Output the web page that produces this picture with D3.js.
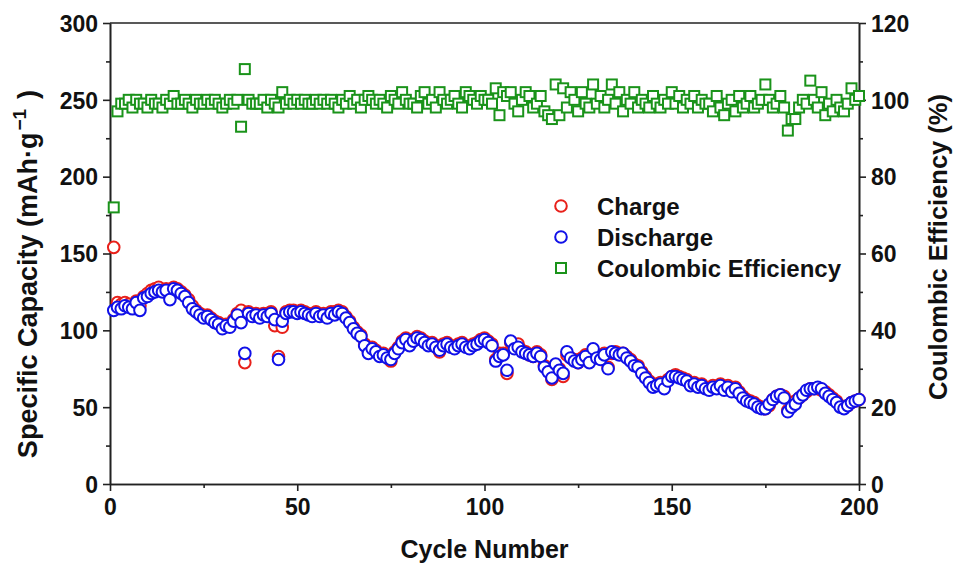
<!DOCTYPE html>
<html>
<head>
<meta charset="utf-8">
<script src="https://d3js.org/d3.v7.min.js"></script>
<style>
  body { margin: 0; background: #fff; }
  text { font-family: 'Liberation Sans', Arial, sans-serif; font-weight: bold; fill: #111; }
  .axis path, .axis line { stroke: #222; stroke-width: 1.6; }
  .axis text { font-size: 23px; }
</style>
</head>
<body>
<script>
// charge / discharge capacity (mAh/g) and coulombic efficiency (%) per cycle 1..200
var charge = [
  154,118,117,118,117,115,119,116,122,124, 126,127,128,126,127,122,128,127,125,123,
  120,116,113,111,109,110,108,106,105,103, 104,103,107,111,113,79,112,110,111,110,
  111,111,112,103,83,102,112,113,113,112, 113,112,111,110,112,110,111,109,112,112,
  113,112,109,106,102,99,97,91,86,89, 87,84,85,83,80,86,89,93,95,91,
  94,96,95,93,91,92,90,86,91,92, 90,89,91,92,90,89,91,92,94,95,
  93,91,81,85,85,72,92,89,91,87, 86,84,83,86,84,77,74,68,77,75,
  70,84,82,81,79,82,84,80,86,83, 82,85,76,85,86,85,85,83,81,78,
  77,73,70,67,64,65,66,63,68,70, 71,70,69,68,65,66,64,65,63,62,
  64,63,65,62,64,61,63,60,57,55, 54,53,51,50,49,51,55,57,58,57,
  48,53,54,56,58,60,62,62,62,61, 60,58,56,54,51,50,51,53,54,55
];
var discharge = [
  113,115,114,116,115,114,118,113,121,122, 124,125,126,125,126,120,127,126,124,122,
  118,114,112,110,108,109,107,105,104,101, 103,102,106,110,105,85,111,109,110,108,
  110,109,111,107,81,106,111,112,112,111, 112,111,110,109,111,109,110,108,111,110,
  112,111,108,105,101,98,96,90,85,88, 86,83,84,82,81,85,88,92,94,90,
  93,95,94,92,90,91,89,87,90,91, 89,88,90,91,89,88,90,91,93,94,
  92,90,80,83,84,74,93,88,89,86, 85,84,83,85,83,76,73,69,78,74,
  72,86,82,80,79,81,83,79,88,82, 81,84,75,86,85,84,85,82,80,77,
  76,72,69,66,63,64,65,62,67,70, 70,69,68,67,64,65,63,64,62,61,
  63,62,64,61,63,60,62,59,56,54, 53,52,50,49,49,52,55,57,58,56,
  47,50,52,56,58,61,62,62,63,62, 59,57,55,53,50,49,51,53,54,55
];
var efficiency = [
  72,97,99,99,100,98,100,99,99,98, 100,99,99,98,100,99,101,99,99,100,
  99,98,100,99,99,100,99,100,99,98, 99,100,99,100,93,108,100,99,99,99,
  100,98,100,99,98,102,99,100,99,100, 99,100,99,99,100,99,100,99,100,99,
  98,100,99,101,99,100,98,100,101,100, 99,100,99,98,101,100,99,102,100,99,
  99,98,101,102,99,100,98,102,100,99, 100,101,99,98,102,101,100,99,101,100,
  100,99,103,96,102,101,102,99,97,100, 102,101,98,99,101,97,96,95,104,96,
  103,98,102,100,97,102,99,98,104,99, 101,98,100,104,99,102,97,100,99,102,
  98,100,99,98,101,99,98,100,99,102, 99,101,98,100,99,101,98,100,99,99,
  97,101,98,96,99,100,97,101,98,99, 101,98,99,100,104,100,98,99,101,98,
  92,95,95,98,100,99,105,100,98,102, 96,99,97,100,98,97,99,103,100,101
];
var xTicks = [0, 50, 100, 150, 200];
var leftTicks = [0, 50, 100, 150, 200, 250, 300];
var rightTicks = [0, 20, 40, 60, 80, 100, 120];
var legendItems = ["Charge", "Discharge", "Coulombic Efficiency"];

var colors = { charge: "#e8201a", discharge: "#1010e8", ce: "#1a931a" };

var width = 955, height = 565;
var margin = { left: 110, right: 96, top: 23, bottom: 81 };

var svg = d3.select("body").append("svg")
  .attr("width", width)
  .attr("height", height);

var x = d3.scaleLinear().domain([0, 200]).range([margin.left, width - margin.right]);
var yCap = d3.scaleLinear().domain([0, 300]).range([height - margin.bottom, margin.top]);
var yCE = d3.scaleLinear().domain([0, 120]).range([height - margin.bottom, margin.top]);

// minor ticks first
svg.append("g").attr("class", "axis")
  .attr("transform", "translate(0," + yCap(0) + ")")
  .call(d3.axisBottom(x).tickValues(d3.range(25, 200, 50)).tickSize(4).tickSizeOuter(0).tickFormat(""));
svg.append("g").attr("class", "axis")
  .attr("transform", "translate(" + x(0) + ",0)")
  .call(d3.axisLeft(yCap).tickValues(d3.range(25, 300, 50)).tickSize(4).tickSizeOuter(0).tickFormat(""));
svg.append("g").attr("class", "axis")
  .attr("transform", "translate(" + x(200) + ",0)")
  .call(d3.axisRight(yCE).tickValues(d3.range(10, 120, 20)).tickSize(4).tickSizeOuter(0).tickFormat(""));

// major axes
svg.append("g").attr("class", "axis")
  .attr("transform", "translate(0," + yCap(0) + ")")
  .call(d3.axisBottom(x).tickValues(xTicks).tickSize(7).tickSizeOuter(0).tickPadding(8));
var lAxis = svg.append("g").attr("class", "axis")
  .attr("transform", "translate(" + x(0) + ",0)")
  .call(d3.axisLeft(yCap).tickValues(leftTicks).tickSize(7).tickSizeOuter(0).tickPadding(5));
var rAxis = svg.append("g").attr("class", "axis")
  .attr("transform", "translate(" + x(200) + ",0)")
  .call(d3.axisRight(yCE).tickValues(rightTicks).tickSize(7).tickSizeOuter(0).tickPadding(5));
lAxis.selectAll("text").attr("dy", "0.36em");
rAxis.selectAll("text").attr("dy", "0.36em");

// top frame
svg.append("line")
  .attr("x1", x(0)).attr("x2", x(200))
  .attr("y1", yCap(300)).attr("y2", yCap(300))
  .attr("stroke", "#222").attr("stroke-width", 1.6);

var cycles = d3.range(1, 201);

svg.append("g").selectAll("circle").data(cycles).join("circle")
  .attr("cx", d => x(d)).attr("cy", d => yCap(charge[d - 1]))
  .attr("r", 5.8).attr("fill", "#fff")
  .attr("stroke", colors.charge).attr("stroke-width", 2);

svg.append("g").selectAll("circle").data(cycles).join("circle")
  .attr("cx", d => x(d)).attr("cy", d => yCap(discharge[d - 1]))
  .attr("r", 5.8).attr("fill", "#fff")
  .attr("stroke", colors.discharge).attr("stroke-width", 2);

svg.append("g").selectAll("rect").data(cycles).join("rect")
  .attr("x", d => x(d) - 5).attr("y", d => yCE(efficiency[d - 1]) - 5)
  .attr("width", 10).attr("height", 10).attr("fill", "#fff")
  .attr("stroke", colors.ce).attr("stroke-width", 2);

// legend
var legend = svg.append("g").attr("transform", "translate(561,206)");
legendItems.forEach(function (name, i) {
  var g = legend.append("g").attr("transform", "translate(0," + i * 31 + ")");
  if (i < 2) {
    g.append("circle").attr("r", 5.8).attr("fill", "#fff")
      .attr("stroke", i === 0 ? colors.charge : colors.discharge).attr("stroke-width", 2);
  } else {
    g.append("rect").attr("x", -5).attr("y", -5).attr("width", 10).attr("height", 10)
      .attr("fill", "#fff").attr("stroke", colors.ce).attr("stroke-width", 2);
  }
  g.append("text").attr("x", 36).attr("dy", "0.36em").style("font-size", "24px").text(name);
});

// axis titles
svg.append("text")
  .attr("x", (x(0) + x(200)) / 2).attr("y", 558)
  .attr("text-anchor", "middle").style("font-size", "25px")
  .text("Cycle Number");

var lt = svg.append("text")
  .attr("transform", "translate(37,274) rotate(-90)")
  .attr("text-anchor", "middle").style("font-size", "27px");
lt.append("tspan").text("Specific Capacity (mAh·g");
lt.append("tspan").attr("dy", "-11").attr("dx", "2").style("font-size", "19px").text("−1");
lt.append("tspan").attr("dy", "11").attr("dx", "10").text(")");

svg.append("text")
  .attr("transform", "translate(947,247) rotate(-90)")
  .attr("text-anchor", "middle").style("font-size", "25.5px")
  .text("Coulombic Efficiency (%)");
</script>
</body>
</html>
